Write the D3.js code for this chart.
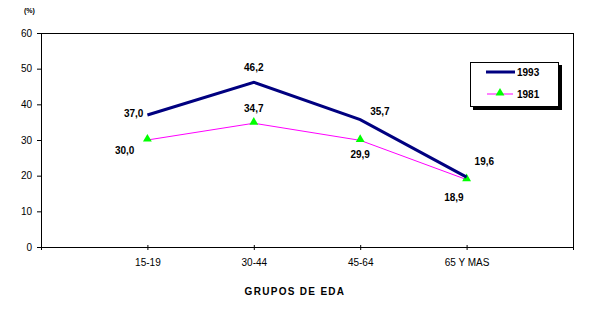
<!DOCTYPE html>
<html>
<head>
<meta charset="utf-8">
<script src="https://cdn.jsdelivr.net/npm/d3@7/dist/d3.min.js"></script>
<style>
  html, body { margin: 0; padding: 0; background: #fff; }
  svg { display: block; font-family: "Liberation Sans", Arial, sans-serif; }
</style>
</head>
<body>
<svg id="chart" width="607" height="327"></svg>
<script>
// Age groups (x axis) and the two survey years
const categories = ["15-19", "30-44", "45-64", "65 Y MAS"];
const values1993 = [37.0, 46.2, 35.7, 19.6];
const values1981 = [30.0, 34.7, 29.9, 18.9];
const yTicks = [0, 10, 20, 30, 40, 50, 60];
const seriesNames = ["1993", "1981"];

const svg = d3.select("#chart");
const plotLeft = 41, plotRight = 573, plotTop = 33, plotBottom = 247;

// Categories sit on interior gridpoints of a 6-slot point scale
const slots = ["", ...categories, " "];
const x = d3.scalePoint().domain(slots).range([plotLeft, plotRight]);
const y = d3.scaleLinear().domain([0, 60]).range([plotBottom, plotTop]);

const fmt = v => v.toFixed(1).replace(".", ",");

// Frame: top and right border lines
svg.append("line").attr("x1", plotLeft).attr("x2", plotRight).attr("y1", plotTop + 0.5).attr("y2", plotTop + 0.5)
  .attr("stroke", "#000").attr("stroke-width", 1);
svg.append("line").attr("x1", plotRight + 0.5).attr("x2", plotRight + 0.5).attr("y1", plotTop).attr("y2", plotBottom)
  .attr("stroke", "#000").attr("stroke-width", 1);

// Y axis
const yAxis = svg.append("g").attr("transform", `translate(${plotLeft},0)`)
  .call(d3.axisLeft(y).tickValues(yTicks).tickSize(4).tickPadding(5).tickFormat(d3.format("d")));
yAxis.selectAll("text").attr("font-size", 10).attr("fill", "#000")
  .attr("font-family", "Liberation Sans, Arial, sans-serif");
yAxis.select(".domain").attr("stroke", "#000");

// X axis with ticks on every slot
const xAxis = svg.append("g").attr("transform", `translate(0,${plotBottom})`)
  .call(d3.axisBottom(x).tickValues(slots).tickSize(4).tickSizeOuter(0).tickPadding(8));
xAxis.select(".domain").attr("stroke", "#000");
xAxis.selectAll(".tick line").attr("y1", -2).attr("y2", 3);
xAxis.selectAll("text").attr("font-size", 10).attr("fill", "#000")
  .attr("font-family", "Liberation Sans, Arial, sans-serif");

// Axis titles
svg.append("text").attr("x", 24).attr("y", 13).attr("font-size", 7).attr("font-weight", "bold")
  .text("(%)");
svg.append("text").attr("x", 295).attr("y", 295).attr("text-anchor", "middle")
  .attr("font-size", 10).attr("font-weight", "bold").attr("letter-spacing", 1.3)
  .text("GRUPOS DE EDA");

const line = d3.line().x((d, i) => x(categories[i])).y(d => y(d));

// 1981 series: thin magenta line with green triangles
svg.append("path").datum(values1981).attr("d", line)
  .attr("fill", "none").attr("stroke", "#ff00ff").attr("stroke-width", 1);
const tri = d3.symbol().type(d3.symbolTriangle).size(34);
svg.selectAll(".m81").data(values1981).join("path")
  .attr("transform", (d, i) => `translate(${x(categories[i])},${y(d) - 1})`)
  .attr("d", tri).attr("fill", "#00ff00");

// 1993 series: thick navy line
svg.append("path").datum(values1993).attr("d", line)
  .attr("fill", "none").attr("stroke", "#000080").attr("stroke-width", 3);

// Value labels: [dx, dy, anchor] per point
const off93 = [[-4, 2, "end"], [0, -11, "middle"], [10, -5, "start"], [8, -12, "start"]];
const off81 = [[-13, 14, "end"], [0, -11, "middle"], [0, 18, "middle"], [-3, 21, "end"]];
function labels(vals, offs) {
  svg.selectAll(null).data(vals).join("text")
    .attr("x", (d, i) => x(categories[i]) + offs[i][0])
    .attr("y", (d, i) => y(d) + offs[i][1])
    .attr("text-anchor", (d, i) => offs[i][2])
    .attr("font-size", 10).attr("font-weight", "bold")
    .text(fmt);
}
labels(values1993, off93);
labels(values1981, off81);

// Legend box with drop shadow
const lg = svg.append("g");
lg.append("rect").attr("x", 473).attr("y", 65).attr("width", 89).attr("height", 45).attr("fill", "#000");
lg.append("rect").attr("x", 470.5).attr("y", 62.5).attr("width", 88).attr("height", 44)
  .attr("fill", "#fff").attr("stroke", "#000").attr("stroke-width", 1);
lg.append("line").attr("x1", 486).attr("x2", 515).attr("y1", 72).attr("y2", 72)
  .attr("stroke", "#000080").attr("stroke-width", 3);
lg.append("line").attr("x1", 487).attr("x2", 513).attr("y1", 94).attr("y2", 94)
  .attr("stroke", "#ff00ff").attr("stroke-width", 1);
lg.append("path").attr("transform", "translate(500,93)").attr("d", tri).attr("fill", "#00ff00");
lg.selectAll(".lt").data(seriesNames).join("text")
  .attr("x", 517).attr("y", (d, i) => 76 + i * 22)
  .attr("font-size", 10).attr("font-weight", "bold").text(d => d);
</script>
</body>
</html>
